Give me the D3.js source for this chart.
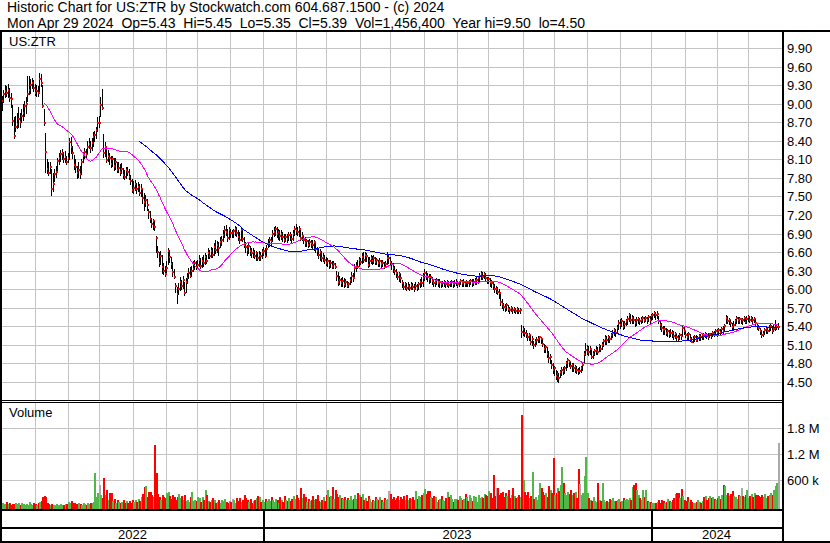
<!DOCTYPE html>
<html lang="en">
<head>
<meta charset="utf-8">
<title>US:ZTR historic chart</title>
<script src="https://cdn.jsdelivr.net/npm/d3@7"></script>
<style>
	html,
	body {
		margin: 0;
		background: #fff;
	}

	svg {
		display: block;
		font-family: 'Liberation Sans', Arial, sans-serif;
	}

	text {
		fill: #000;
		white-space: pre;
	}
</style>
</head>
<body>
<svg id="chart"></svg>
<script>
// One bar for every weekday between these two days.
const firstDay = '2022-04-28';
const lastDay = '2024-04-29';

const titleLines = [
	'Historic Chart for US:ZTR by Stockwatch.com 604.687.1500 - (c) 2024',
	'Mon Apr 29 2024  Op=5.43  Hi=5.45  Lo=5.35  Cl=5.39  Vol=1,456,400  Year hi=9.50  lo=4.50',
];
const symbol = 'US:ZTR';
const volumeTitle = 'Volume';

const closes = [
	8.95, 8.89, 9.05, 9.15, 9.20, 9.18, 9.22, 9.09, 9.07, 8.72,
	8.48, 8.62, 8.67, 8.75, 8.70, 8.80, 8.85, 8.96, 9.00, 9.16,
	9.22, 9.30, 9.34, 9.25, 9.18, 9.20, 9.18, 9.40, 9.34, 8.97,
	8.69, 8.22, 7.95, 7.88, 7.98, 7.62, 7.70, 7.86, 7.90, 8.08,
	8.12, 8.18, 8.20, 8.11, 8.14, 8.06, 8.12, 8.38, 8.30, 8.20,
	8.01, 7.98, 7.88, 7.92, 7.86, 8.05, 8.15, 8.22, 8.18, 8.30,
	8.35, 8.28, 8.36, 8.46, 8.50, 8.58, 8.69, 8.69, 8.98, 8.93,
	8.21, 8.30, 8.09, 8.15, 8.12, 8.02, 8.10, 7.99, 8.05, 7.93,
	7.96, 7.90, 7.95, 7.85, 7.81, 7.92, 7.90, 7.82, 7.75, 7.60,
	7.64, 7.70, 7.62, 7.66, 7.56, 7.62, 7.48, 7.41, 7.45, 7.36,
	7.25, 7.14, 7.06, 7.10, 7.01, 6.83, 6.60, 6.43, 6.54, 6.36,
	6.30, 6.24, 6.35, 6.61, 6.52, 6.40, 6.28, 6.20, 6.05, 5.93,
	6.00, 6.12, 6.05, 6.15, 5.94, 6.11, 6.18, 6.26, 6.22, 6.30,
	6.33, 6.42, 6.36, 6.39, 6.48, 6.37, 6.45, 6.42, 6.52, 6.46,
	6.58, 6.53, 6.62, 6.56, 6.68, 6.63, 6.72, 6.66, 6.77, 6.80,
	6.88, 6.96, 6.92, 6.83, 6.95, 6.91, 6.91, 6.94, 6.98, 6.91,
	6.85, 6.80, 6.95, 6.82, 6.72, 6.68, 6.63, 6.70, 6.62, 6.58,
	6.60, 6.54, 6.58, 6.50, 6.56, 6.53, 6.60, 6.62, 6.54, 6.65,
	6.73, 6.80, 6.78, 6.90, 6.93, 6.98, 6.90, 6.93, 6.86, 6.90,
	6.85, 6.80, 6.84, 6.82, 6.88, 6.87, 6.82, 6.90, 6.97, 6.95,
	6.93, 6.98, 6.83, 6.86, 6.80, 6.74, 6.78, 6.72, 6.76, 6.74,
	6.72, 6.76, 6.65, 6.62, 6.55, 6.60, 6.50, 6.52, 6.47, 6.42,
	6.45, 6.39, 6.42, 6.38, 6.40, 6.36, 6.22, 6.12, 6.15, 6.10,
	6.14, 6.08, 6.12, 6.06, 6.08, 6.15, 6.22, 6.18, 6.34, 6.38,
	6.36, 6.47, 6.44, 6.52, 6.48, 6.55, 6.53, 6.39, 6.45, 6.50,
	6.45, 6.50, 6.44, 6.47, 6.42, 6.45, 6.40, 6.42, 6.36, 6.40,
	6.50, 6.50, 6.44, 6.40, 6.34, 6.30, 6.26, 6.20, 6.24, 6.18,
	6.10, 6.04, 6.08, 6.02, 6.06, 6.02, 6.07, 6.03, 6.00, 6.06,
	6.02, 6.08, 6.12, 6.10, 6.18, 6.26, 6.22, 6.20, 6.16, 6.20,
	6.14, 6.10, 6.12, 6.15, 6.10, 6.12, 6.08, 6.10, 6.12, 6.09,
	6.11, 6.07, 6.10, 6.12, 6.08, 6.10, 6.12, 6.08, 6.11, 6.14,
	6.10, 6.12, 6.09, 6.12, 6.10, 6.11, 6.14, 6.10, 6.12, 6.14,
	6.15, 6.18, 6.22, 6.25, 6.20, 6.24, 6.18, 6.14, 6.16, 6.12,
	6.10, 6.05, 6.00, 6.00, 5.96, 5.94, 5.80, 5.76, 5.72, 5.70,
	5.74, 5.68, 5.66, 5.70, 5.66, 5.68, 5.65, 5.68, 5.64, 5.66,
	5.31, 5.35, 5.30, 5.28, 5.23, 5.26, 5.14, 5.20, 5.10, 5.15,
	5.18, 5.20, 5.22, 5.19, 5.12, 5.03, 5.06, 4.95, 4.88, 4.90,
	4.78, 4.69, 4.72, 4.59, 4.63, 4.56, 4.66, 4.70, 4.68, 4.72,
	4.80, 4.86, 4.82, 4.76, 4.78, 4.72, 4.75, 4.70, 4.67, 4.67,
	4.72, 4.78, 4.96, 5.02, 5.05, 4.98, 5.03, 4.91, 4.96, 5.00,
	5.02, 4.98, 5.08, 5.04, 5.10, 5.16, 5.21, 5.18, 5.22, 5.20,
	5.26, 5.29, 5.34, 5.30, 5.38, 5.45, 5.42, 5.48, 5.39, 5.44,
	5.48, 5.52, 5.58, 5.50, 5.54, 5.50, 5.45, 5.50, 5.52, 5.48,
	5.50, 5.53, 5.51, 5.53, 5.50, 5.55, 5.50, 5.56, 5.58, 5.61,
	5.58, 5.60, 5.48, 5.42, 5.38, 5.34, 5.36, 5.30, 5.32, 5.28,
	5.30, 5.29, 5.25, 5.28, 5.22, 5.21, 5.26, 5.24, 5.37, 5.32,
	5.26, 5.23, 5.28, 5.20, 5.15, 5.20, 5.22, 5.18, 5.21, 5.24,
	5.22, 5.26, 5.24, 5.28, 5.26, 5.23, 5.27, 5.25, 5.30, 5.28,
	5.32, 5.30, 5.34, 5.31, 5.36, 5.33, 5.40, 5.53, 5.48, 5.50,
	5.46, 5.39, 5.42, 5.48, 5.53, 5.50, 5.52, 5.52, 5.50, 5.54,
	5.47, 5.52, 5.55, 5.50, 5.53, 5.50, 5.52, 5.45, 5.40, 5.37,
	5.32, 5.26, 5.28, 5.34, 5.36, 5.32, 5.38, 5.40, 5.33, 5.36, 5.38, 5.39, 5.39,
];

const highs = [
	9.10, 9.05, 9.12, 9.22, 9.30, 9.28, 9.32, 9.25, 9.18, 8.98,
	8.78, 8.80, 8.85, 8.95, 8.85, 8.92, 9.00, 9.05, 9.10, 9.44,
	9.45, 9.40, 9.42, 9.38, 9.32, 9.30, 9.28, 9.50, 9.48, 9.30,
	8.92, 8.52, 8.10, 8.05, 8.05, 7.95, 7.88, 7.95, 8.00, 8.12,
	8.20, 8.25, 8.26, 8.22, 8.24, 8.15, 8.20, 8.45, 8.46, 8.32,
	8.17, 8.10, 8.00, 8.05, 8.00, 8.10, 8.22, 8.28, 8.26, 8.40,
	8.45, 8.40, 8.44, 8.54, 8.55, 8.62, 8.78, 8.80, 9.10, 9.24,
	8.51, 8.38, 8.28, 8.25, 8.20, 8.15, 8.16, 8.12, 8.12, 8.06,
	8.05, 8.02, 8.04, 7.96, 7.92, 7.98, 7.98, 7.94, 7.85, 7.78,
	7.75, 7.77, 7.72, 7.74, 7.70, 7.70, 7.62, 7.55, 7.52, 7.46,
	7.30, 7.26, 7.15, 7.14, 7.10, 6.86, 6.70, 6.60, 6.62, 6.55,
	6.42, 6.38, 6.45, 6.66, 6.63, 6.52, 6.44, 6.32, 6.10, 6.04,
	6.10, 6.20, 6.15, 6.22, 6.12, 6.18, 6.26, 6.34, 6.36, 6.38,
	6.45, 6.47, 6.46, 6.48, 6.55, 6.50, 6.52, 6.56, 6.58, 6.56,
	6.66, 6.64, 6.68, 6.66, 6.74, 6.80, 6.78, 6.76, 6.84, 6.86,
	6.95, 7.02, 7.04, 6.98, 7.00, 6.98, 6.95, 6.98, 7.02, 7.00,
	6.96, 6.92, 7.00, 6.96, 6.84, 6.76, 6.72, 6.75, 6.70, 6.66,
	6.66, 6.64, 6.62, 6.60, 6.62, 6.60, 6.65, 6.68, 6.66, 6.72,
	6.82, 6.84, 6.85, 6.96, 7.01, 7.02, 7.00, 6.98, 6.96, 6.95,
	6.92, 6.90, 6.90, 6.90, 6.93, 6.92, 6.90, 6.95, 7.03, 7.05,
	7.00, 7.02, 6.96, 6.92, 6.86, 6.84, 6.82, 6.80, 6.82, 6.80,
	6.80, 6.80, 6.74, 6.68, 6.66, 6.65, 6.62, 6.58, 6.55, 6.52,
	6.50, 6.48, 6.47, 6.45, 6.46, 6.42, 6.30, 6.28, 6.22, 6.18,
	6.20, 6.18, 6.16, 6.14, 6.12, 6.20, 6.28, 6.26, 6.40, 6.44,
	6.48, 6.52, 6.50, 6.58, 6.60, 6.60, 6.58, 6.52, 6.52, 6.55,
	6.54, 6.55, 6.52, 6.50, 6.48, 6.50, 6.47, 6.48, 6.44, 6.46,
	6.60, 6.56, 6.52, 6.46, 6.42, 6.38, 6.32, 6.28, 6.28, 6.24,
	6.15, 6.12, 6.12, 6.10, 6.12, 6.08, 6.12, 6.10, 6.08, 6.12,
	6.08, 6.12, 6.16, 6.20, 6.26, 6.32, 6.30, 6.26, 6.24, 6.24,
	6.20, 6.17, 6.16, 6.18, 6.16, 6.16, 6.14, 6.14, 6.15, 6.14,
	6.15, 6.13, 6.14, 6.15, 6.13, 6.15, 6.16, 6.13, 6.14, 6.16,
	6.15, 6.16, 6.14, 6.15, 6.14, 6.15, 6.17, 6.16, 6.16, 6.18,
	6.20, 6.22, 6.26, 6.29, 6.28, 6.28, 6.26, 6.20, 6.20, 6.18,
	6.15, 6.12, 6.08, 6.06, 6.04, 6.00, 5.92, 5.84, 5.78, 5.76,
	5.78, 5.75, 5.72, 5.73, 5.70, 5.72, 5.70, 5.72, 5.70, 5.70,
	5.42, 5.40, 5.38, 5.34, 5.30, 5.30, 5.26, 5.24, 5.16, 5.20,
	5.22, 5.24, 5.24, 5.23, 5.20, 5.12, 5.10, 5.06, 5.00, 4.96,
	4.86, 4.80, 4.76, 4.70, 4.68, 4.64, 4.70, 4.74, 4.74, 4.76,
	4.84, 4.88, 4.86, 4.82, 4.80, 4.80, 4.78, 4.76, 4.72, 4.74,
	4.76, 4.80, 5.00, 5.13, 5.10, 5.08, 5.08, 5.02, 5.00, 5.04,
	5.08, 5.06, 5.12, 5.10, 5.14, 5.20, 5.26, 5.24, 5.26, 5.25,
	5.30, 5.34, 5.38, 5.36, 5.42, 5.50, 5.52, 5.53, 5.48, 5.48,
	5.52, 5.56, 5.61, 5.60, 5.58, 5.56, 5.52, 5.55, 5.55, 5.54,
	5.55, 5.56, 5.55, 5.56, 5.55, 5.58, 5.57, 5.60, 5.62, 5.64,
	5.63, 5.64, 5.56, 5.50, 5.45, 5.40, 5.40, 5.38, 5.36, 5.34,
	5.35, 5.34, 5.32, 5.31, 5.28, 5.26, 5.30, 5.28, 5.42, 5.40,
	5.32, 5.30, 5.31, 5.28, 5.22, 5.24, 5.26, 5.26, 5.25, 5.28,
	5.28, 5.30, 5.30, 5.31, 5.30, 5.29, 5.30, 5.30, 5.33, 5.33,
	5.36, 5.36, 5.38, 5.36, 5.39, 5.40, 5.44, 5.58, 5.56, 5.54,
	5.50, 5.46, 5.48, 5.52, 5.56, 5.55, 5.55, 5.54, 5.53, 5.57,
	5.54, 5.56, 5.58, 5.56, 5.56, 5.55, 5.55, 5.52, 5.46, 5.42,
	5.38, 5.34, 5.32, 5.38, 5.40, 5.38, 5.42, 5.44, 5.40, 5.42, 5.50, 5.44, 5.45,
];

const lows = [
	8.85, 8.84, 8.90, 9.02, 9.10, 9.12, 9.10, 9.05, 8.95, 8.65,
	8.45, 8.55, 8.60, 8.62, 8.62, 8.70, 8.74, 8.80, 8.85, 9.05,
	9.15, 9.18, 9.25, 9.20, 9.14, 9.12, 9.12, 9.20, 9.28, 8.95,
	8.66, 7.90, 7.88, 7.85, 7.88, 7.52, 7.58, 7.75, 7.82, 7.92,
	8.02, 8.08, 8.10, 8.06, 8.05, 8.02, 8.05, 8.10, 8.20, 8.12,
	7.95, 7.90, 7.80, 7.82, 7.80, 7.86, 8.05, 8.12, 8.12, 8.20,
	8.28, 8.22, 8.25, 8.32, 8.40, 8.45, 8.55, 8.62, 8.80, 8.92,
	8.14, 8.15, 8.05, 8.08, 8.02, 7.98, 8.00, 7.92, 7.95, 7.90,
	7.90, 7.85, 7.88, 7.80, 7.78, 7.80, 7.84, 7.78, 7.70, 7.57,
	7.55, 7.60, 7.55, 7.58, 7.52, 7.50, 7.40, 7.28, 7.35, 7.28,
	7.15, 7.08, 7.00, 6.98, 6.96, 6.60, 6.52, 6.38, 6.40, 6.26,
	6.25, 6.22, 6.28, 6.40, 6.44, 6.35, 6.22, 6.18, 5.95, 5.78,
	5.92, 5.98, 6.00, 6.02, 5.90, 5.95, 6.10, 6.18, 6.20, 6.22,
	6.30, 6.32, 6.32, 6.34, 6.38, 6.34, 6.36, 6.38, 6.40, 6.42,
	6.50, 6.50, 6.52, 6.52, 6.55, 6.58, 6.60, 6.56, 6.68, 6.72,
	6.78, 6.85, 6.88, 6.78, 6.82, 6.85, 6.84, 6.85, 6.88, 6.86,
	6.80, 6.75, 6.80, 6.78, 6.68, 6.60, 6.55, 6.58, 6.55, 6.52,
	6.52, 6.50, 6.48, 6.47, 6.48, 6.48, 6.50, 6.55, 6.52, 6.55,
	6.68, 6.70, 6.72, 6.78, 6.86, 6.88, 6.85, 6.82, 6.80, 6.82,
	6.78, 6.76, 6.78, 6.77, 6.80, 6.80, 6.77, 6.80, 6.88, 6.90,
	6.88, 6.86, 6.80, 6.80, 6.74, 6.70, 6.70, 6.68, 6.70, 6.68,
	6.66, 6.64, 6.60, 6.55, 6.50, 6.48, 6.46, 6.45, 6.42, 6.39,
	6.38, 6.35, 6.36, 6.34, 6.35, 6.34, 6.15, 6.07, 6.08, 6.06,
	6.06, 6.04, 6.05, 6.03, 6.03, 6.08, 6.12, 6.14, 6.22, 6.30,
	6.34, 6.38, 6.40, 6.42, 6.44, 6.45, 6.46, 6.36, 6.38, 6.42,
	6.40, 6.42, 6.40, 6.40, 6.38, 6.38, 6.36, 6.38, 6.35, 6.36,
	6.40, 6.42, 6.40, 6.32, 6.28, 6.24, 6.20, 6.16, 6.14, 6.12,
	6.04, 6.00, 6.00, 5.99, 6.00, 5.99, 6.01, 6.00, 5.97, 6.00,
	5.98, 6.00, 6.04, 6.05, 6.06, 6.15, 6.16, 6.14, 6.10, 6.12,
	6.08, 6.05, 6.06, 6.08, 6.05, 6.04, 6.04, 6.05, 6.06, 6.04,
	6.05, 6.04, 6.05, 6.06, 6.04, 6.06, 6.07, 6.04, 6.06, 6.08,
	6.06, 6.06, 6.05, 6.06, 6.05, 6.06, 6.08, 6.06, 6.07, 6.08,
	6.08, 6.10, 6.14, 6.16, 6.16, 6.18, 6.14, 6.10, 6.10, 6.06,
	6.04, 6.00, 5.96, 5.94, 5.92, 5.86, 5.74, 5.70, 5.66, 5.64,
	5.66, 5.64, 5.62, 5.64, 5.62, 5.63, 5.61, 5.62, 5.61, 5.61,
	5.22, 5.26, 5.24, 5.22, 5.18, 5.18, 5.12, 5.10, 5.05, 5.08,
	5.12, 5.14, 5.14, 5.13, 5.08, 4.98, 4.98, 4.90, 4.82, 4.80,
	4.72, 4.64, 4.62, 4.55, 4.52, 4.50, 4.58, 4.62, 4.63, 4.64,
	4.70, 4.74, 4.76, 4.72, 4.68, 4.68, 4.66, 4.65, 4.63, 4.64,
	4.66, 4.70, 4.80, 4.94, 4.96, 4.94, 4.95, 4.88, 4.88, 4.94,
	4.96, 4.95, 5.00, 5.00, 5.04, 5.08, 5.12, 5.12, 5.15, 5.14,
	5.20, 5.22, 5.26, 5.25, 5.30, 5.36, 5.38, 5.40, 5.36, 5.38,
	5.42, 5.44, 5.48, 5.46, 5.46, 5.45, 5.40, 5.42, 5.45, 5.44,
	5.46, 5.47, 5.47, 5.48, 5.46, 5.48, 5.46, 5.50, 5.52, 5.55,
	5.52, 5.54, 5.45, 5.36, 5.32, 5.28, 5.28, 5.26, 5.24, 5.22,
	5.24, 5.22, 5.20, 5.21, 5.18, 5.18, 5.20, 5.19, 5.26, 5.28,
	5.22, 5.18, 5.20, 5.16, 5.14, 5.15, 5.16, 5.16, 5.16, 5.18,
	5.18, 5.20, 5.20, 5.22, 5.21, 5.20, 5.22, 5.21, 5.24, 5.24,
	5.26, 5.24, 5.28, 5.26, 5.30, 5.30, 5.34, 5.45, 5.45, 5.44,
	5.40, 5.34, 5.36, 5.42, 5.46, 5.46, 5.46, 5.45, 5.44, 5.48,
	5.45, 5.46, 5.48, 5.47, 5.48, 5.46, 5.47, 5.42, 5.36, 5.34,
	5.28, 5.23, 5.24, 5.28, 5.30, 5.30, 5.32, 5.34, 5.30, 5.33, 5.34, 5.35, 5.35,
];

// Daily volume, thousands of shares.
const volumes = [
	140, 30, 60, 45, 50, 95, 40, 60, 30, 55,
	45, 70, 35, 60, 25, 80, 40, 20, 55, 30,
	100, 40, 25, 60, 35, 25, 70, 90, 110, 210,
	220, 200, 60, 40, 30, 55, 30, 25, 45, 30,
	20, 40, 30, 25, 50, 35, 100, 70, 120, 60,
	80, 55, 40, 65, 50, 30, 60, 45, 25, 60,
	35, 60, 60, 100, 770, 200, 300, 480, 250, 190,
	650, 250, 370, 150, 290, 290, 120, 160, 80, 140,
	100, 60, 90, 140, 70, 120, 60, 110, 80, 150,
	90, 140, 100, 160, 120, 200, 280, 440, 460, 200,
	330, 330, 250, 200, 1410, 760, 280, 200, 150, 260,
	210, 180, 300, 330, 240, 170, 250, 200, 150, 210,
	280, 180, 220, 150, 250, 120, 140, 100, 200, 330,
	120, 130, 110, 200, 180, 100, 210, 140, 380, 250,
	120, 90, 140, 180, 150, 60, 100, 140, 80, 130,
	110, 160, 90, 70, 120, 90, 170, 140, 80, 190,
	110, 180, 100, 130, 250, 180, 140, 100, 160, 80,
	120, 140, 180, 230, 200, 100, 140, 90, 160, 120,
	160, 110, 200, 140, 100, 170, 130, 80, 200, 150,
	90, 230, 150, 110, 180, 120, 170, 230, 160, 250,
	180, 140, 420, 180, 280, 200, 100, 160, 110, 150,
	220, 130, 170, 260, 120, 90, 150, 200, 110, 250,
	380, 200, 230, 450, 160, 380, 270, 200, 250, 180,
	170, 200, 140, 180, 150, 220, 130, 160, 260, 170,
	300, 250, 200, 280, 140, 190, 120, 240, 160, 100,
	150, 120, 200, 170, 130, 210, 150, 100, 180, 130,
	160, 350, 280, 170, 200, 140, 180, 230, 150, 210,
	170, 220, 140, 250, 130, 180, 160, 200, 150, 350,
	170, 240, 200, 260, 300, 400, 280, 350, 350, 200,
	190, 230, 210, 100, 130, 160, 220, 140, 120, 180,
	320, 200, 250, 170, 100, 160, 170, 150, 220, 180,
	150, 170, 280, 210, 120, 250, 190, 120, 230, 200,
	100, 250, 180, 210, 190, 270, 260, 230, 350, 300,
	180, 715, 220, 420, 420, 250, 300, 330, 200, 310,
	240, 380, 180, 260, 420, 220, 180, 200, 250, 200,
	2100, 600, 330, 250, 330, 180, 240, 785, 160, 200,
	150, 250, 540, 420, 330, 250, 300, 200, 470, 360,
	300, 1100, 250, 300, 420, 350, 480, 900, 540, 300,
	250, 330, 280, 370, 250, 300, 330, 180, 850, 500,
	250, 300, 690, 1130, 290, 180, 150, 110, 200, 120,
	100, 540, 130, 110, 540, 150, 100, 120, 90, 170,
	140, 190, 110, 120, 150, 170, 100, 120, 190, 140,
	160, 130, 180, 150, 450, 490, 540, 360, 250, 180,
	150, 370, 200, 360, 120, 100, 90, 60, 60, 80,
	60, 100, 130, 80, 150, 110, 60, 100, 160, 120,
	100, 130, 180, 270, 300, 290, 180, 400, 220, 150,
	120, 200, 100, 140, 90, 80, 60, 100, 150, 100,
	80, 110, 210, 220, 150, 190, 220, 180, 200, 170,
	130, 180, 220, 170, 250, 490, 460, 260, 300, 220,
	280, 340, 240, 200, 170, 260, 230, 420, 220, 200,
	250, 370, 180, 230, 270, 200, 300, 250, 260, 230,
	210, 250, 200, 270, 180, 240, 260, 300, 250, 370, 470, 520, 1456,
];

const priceTicks = [4.5, 4.8, 5.1, 5.4, 5.7, 6.0, 6.3, 6.6, 6.9, 7.2, 7.5, 7.8, 8.1, 8.4, 8.7, 9.0, 9.3, 9.6, 9.9];
const volumeTicks = [600, 1200, 1800];
const volumeTickLabels = ['600 k', '1.2 M', '1.8 M'];

// Moving average lengths, in bars.
const averageLengths = [31, 95];

const config = {
	width: 830,
	height: 543,
	left: 2,
	right: 782,
	price: { top: 32, bottom: 400, range: [382, 48] },
	volume: { top: 403, bottom: 509, range: [506, 428] },
	firstBarX: -1,
	barStep: 1.492,
	fontSize: 13,
	titleFontSize: 14,
	colors: {
		grid: '#c4c4c4',
		frame: '#000',
		bar: '#000',
		close: '#ff0000',
		up: '#4fb848',
		down: '#ff0000',
		flat: '#aaaaaa',
		averages: ['#ff00ff', '#0000ff'],
	},
};

/**
 * Stockwatch style daily bar chart with volume pane.
 * @class
 */
class HistoricChart {
	#svg;
	#days;
	#x;
	#yPrice;
	#yVolume;

	constructor(selector) {
		this.#svg = d3.select(selector).attr('width', config.width).attr('height', config.height);

		const parse = d3.utcParse('%Y-%m-%d');
		this.#days = d3.utcDay
			.range(parse(firstDay), d3.utcDay.offset(parse(lastDay), 1))
			.filter(d => d.getUTCDay() % 6 !== 0);

		if (this.#days.length !== closes.length) {
			console.warn('bars/days mismatch', this.#days.length, closes.length);
		}

		const n = closes.length;
		this.#x = d3
			.scaleLinear()
			.domain([0, n - 1])
			.range([config.firstBarX, config.firstBarX + (n - 1) * config.barStep]);
		this.#yPrice = d3.scaleLinear().domain([4.5, 9.9]).range(config.price.range);
		this.#yVolume = d3.scaleLinear().domain([0, 1800]).range(config.volume.range);

		this.#drawClips();
		this.#drawGrid();
		this.#drawVolume();
		this.#drawPrice();
		this.#drawAverages();
		this.#drawFrame();
		this.#drawTexts();
	}

	#px(i) {
		return Math.round(this.#x(i));
	}

	#drawClips() {
		const defs = this.#svg.append('defs');

		[
			['price-clip', config.price],
			['volume-clip', config.volume],
		].forEach(([id, pane]) => {
			defs
				.append('clipPath')
				.attr('id', id)
				.append('rect')
				.attr('x', config.left)
				.attr('y', pane.top)
				.attr('width', config.right - config.left)
				.attr('height', pane.bottom - pane.top);
		});
	}

	#monthStarts() {
		return d3.range(1, this.#days.length).filter(i => this.#days[i].getUTCMonth() !== this.#days[i - 1].getUTCMonth());
	}

	#yearStarts() {
		return d3.range(1, this.#days.length).filter(i => this.#days[i].getUTCFullYear() !== this.#days[i - 1].getUTCFullYear());
	}

	#drawGrid() {
		const g = this.#svg
			.append('g')
			.attr('class', 'grid')
			.attr('stroke', config.colors.grid)
			.attr('shape-rendering', 'crispEdges');

		const months = this.#monthStarts().filter(i => this.#px(i) > config.left);

		[config.price, config.volume].forEach(pane => {
			g.append('g')
				.selectAll('line')
				.data(months)
				.join('line')
				.attr('x1', i => this.#px(i) + 0.5)
				.attr('x2', i => this.#px(i) + 0.5)
				.attr('y1', pane.top)
				.attr('y2', pane.bottom);
		});

		g.append('g')
			.selectAll('line')
			.data(priceTicks)
			.join('line')
			.attr('x1', config.left)
			.attr('x2', config.right)
			.attr('y1', d => Math.round(this.#yPrice(d)) + 0.5)
			.attr('y2', d => Math.round(this.#yPrice(d)) + 0.5);

		g.append('g')
			.selectAll('line')
			.data(volumeTicks)
			.join('line')
			.attr('x1', config.left)
			.attr('x2', config.right)
			.attr('y1', d => Math.round(this.#yVolume(d)) + 0.5)
			.attr('y2', d => Math.round(this.#yVolume(d)) + 0.5);
	}

	#drawPrice() {
		const g = this.#svg
			.append('g')
			.attr('class', 'bars')
			.attr('clip-path', 'url(#price-clip)')
			.attr('shape-rendering', 'crispEdges');

		// Each bar keeps its close mark so the next bar may cover it, as on the original.
		const bars = g.selectAll('g').data(closes).join('g');

		bars
			.append('rect')
			.attr('fill', config.colors.bar)
			.attr('x', (d, i) => this.#px(i))
			.attr('y', (d, i) => Math.round(this.#yPrice(highs[i])))
			.attr('width', 1)
			.attr('height', (d, i) => Math.max(1, Math.round(this.#yPrice(lows[i])) - Math.round(this.#yPrice(highs[i])) + 1));

		bars
			.append('rect')
			.attr('fill', config.colors.close)
			.attr('x', (d, i) => this.#px(i))
			.attr('y', d => Math.round(this.#yPrice(d)) - 1)
			.attr('width', 2)
			.attr('height', 2);
	}

	#drawAverages() {
		const g = this.#svg
			.append('g')
			.attr('class', 'averages')
			.attr('clip-path', 'url(#price-clip)')
			.attr('shape-rendering', 'crispEdges');

		averageLengths.forEach((length, k) => {
			const values = closes.map((d, i) => (i < length - 1 ? null : d3.mean(closes.slice(i - length + 1, i + 1))));

			const line = d3
				.line()
				.defined(d => d !== null)
				.x((d, i) => this.#x(i))
				.y(d => this.#yPrice(d));

			g.append('path')
				.attr('d', line(values))
				.attr('fill', 'none')
				.attr('stroke', config.colors.averages[k])
				.attr('stroke-width', 1);
		});
	}

	#drawVolume() {
		const color = i => {
			if (i === 0 || closes[i] === closes[i - 1]) {
				return config.colors.flat;
			}
			return closes[i] > closes[i - 1] ? config.colors.up : config.colors.down;
		};

		this.#svg
			.append('g')
			.attr('class', 'volume')
			.attr('clip-path', 'url(#volume-clip)')
			.attr('shape-rendering', 'crispEdges')
			.selectAll('rect')
			.data(volumes)
			.join('rect')
			.attr('fill', (d, i) => color(i))
			.attr('x', (d, i) => this.#px(i))
			.attr('y', d => Math.round(this.#yVolume(d)))
			.attr('width', 2)
			.attr('height', d => config.volume.bottom - Math.round(this.#yVolume(d)));
	}

	#drawFrame() {
		const g = this.#svg.append('g').attr('class', 'frame').attr('fill', config.colors.frame).attr('shape-rendering', 'crispEdges');
		const rule = (x, y, w, h) => g.append('rect').attr('x', x).attr('y', y).attr('width', w).attr('height', h);

		// Outer frame and pane separators.
		rule(0, 30, config.width, 2);
		rule(0, 30, 2, config.height - 30);
		rule(config.right, 30, 2, config.height - 30);
		rule(0, 400, config.right, 1);
		rule(0, 402, config.right, 1);
		rule(0, 509, config.right + 2, 2);
		rule(0, 527, config.right + 2, 2);
		rule(0, 541, config.width, 2);

		// Year separators in the date rows.
		this.#yearStarts().forEach(i => rule(this.#px(i), 509, 2, 34));
	}

	#drawTexts() {
		const g = this.#svg.append('g').attr('class', 'texts').attr('font-size', config.fontSize);

		g.selectAll('text.title')
			.data(titleLines)
			.join('text')
			.attr('class', 'title')
			.attr('x', 7)
			.attr('y', (d, i) => 12 + i * 16)
			.attr('font-size', config.titleFontSize)
			.text(d => d);

		g.append('text').attr('x', 9).attr('y', 46).text(symbol);
		g.append('text').attr('x', 9).attr('y', 417).text(volumeTitle);

		g.selectAll('text.price-tick')
			.data(priceTicks)
			.join('text')
			.attr('class', 'price-tick')
			.attr('x', 787)
			.attr('y', d => Math.round(this.#yPrice(d)) + 5)
			.text(d => d.toFixed(2));

		g.selectAll('text.volume-tick')
			.data(volumeTicks)
			.join('text')
			.attr('class', 'volume-tick')
			.attr('x', 787)
			.attr('y', d => Math.round(this.#yVolume(d)) + 5)
			.text((d, i) => volumeTickLabels[i]);

		// Year labels centred between separators.
		const edges = [config.left, ...this.#yearStarts().map(i => this.#px(i)), config.right];
		g.selectAll('text.year')
			.data(d3.pairs(edges))
			.join('text')
			.attr('class', 'year')
			.attr('x', ([a, b]) => (a + b) / 2)
			.attr('y', 539)
			.attr('text-anchor', 'middle')
			.text((d, i) => this.#days[0].getUTCFullYear() + i);
	}
}

new HistoricChart('#chart');
</script>
</body>
</html>
